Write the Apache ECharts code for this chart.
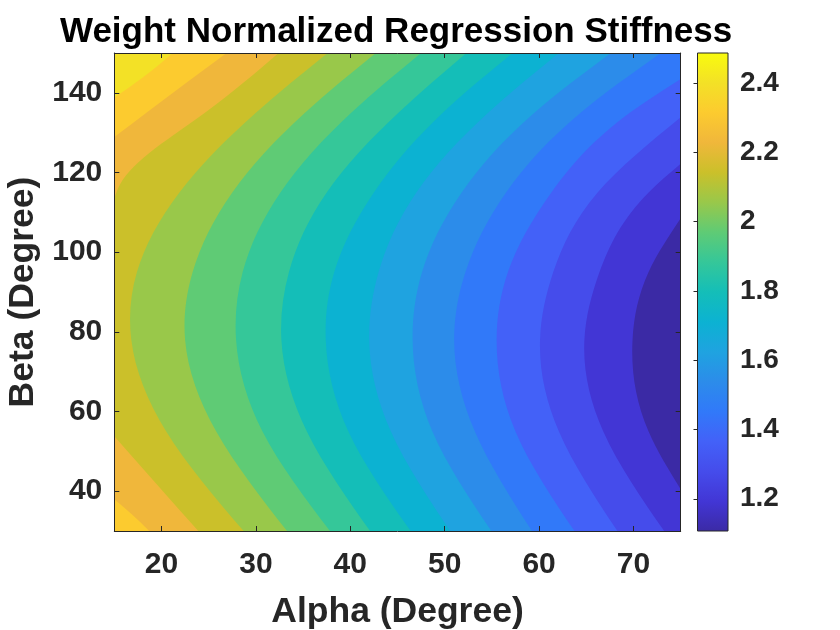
<!DOCTYPE html>
<html><head><meta charset="utf-8">
<script src="https://cdn.jsdelivr.net/npm/echarts@6/dist/echarts.min.js"></script>
<style>html,body{margin:0;padding:0;background:#fff}#c{width:840px;height:630px}</style>
</head><body><div id="c"></div>
<script>
// ---------- data ----------
const titleText = 'Weight Normalized Regression Stiffness';
const xName = 'Alpha (Degree)';
const yName = 'Beta (Degree)';
const alphaRange = [15, 75];
const betaRange = [30, 150];
const valueRange = [1.107, 2.486];
const xTicks = [20, 30, 40, 50, 60, 70];
const yTicks = [40, 60, 80, 100, 120, 140];
const cbTicks = [1.2, 1.4, 1.6, 1.8, 2, 2.2, 2.4];

// contour boundaries as [alpha, beta]; boundN separates band N-1 (right, lower) from band N (left, higher)
const bound1  = [[75,108.5],[71.6,95],[69.9,78],[71.6,55],[75,40.5]];
const bound2  = [[75,122.2],[71.6,115],[66.4,95],[64.8,78],[66.8,55],[73.25,30]];
const bound3  = [[75,133.9],[66.2,115],[61.5,95],[60.1,78],[62.1,55],[68.3,30]];
const bound4  = [[75,143.5],[69.6,135],[61.3,115],[56.7,95],[55.5,78],[57.5,55],[63.75,30]];
const bound5  = [[72.9,150],[64.4,135],[56.5,115],[52.2,95],[51.0,78],[53.2,55],[59.25,30]];
const bound6  = [[67.6,150],[59.5,135],[51.8,115],[47.6,95],[46.6,78],[48.7,55],[54.95,30]];
const bound7  = [[62.1,150],[54.6,135],[47.0,115],[43.0,95],[42.0,78],[44.3,55],[50.6,30]];
const bound8  = [[57.2,150],[49.8,135],[42.5,115],[38.3,95],[37.4,78],[39.8,55],[46.4,30]];
const bound9  = [[52.3,150],[45.1,135],[37.5,115],[33.5,95],[32.7,78],[35.4,55],[42.1,30]];
const bound10 = [[47.5,150],[40.1,135],[32.6,115],[28.6,95],[27.9,78],[30.7,55],[37.85,30]];
const bound11 = [[42.7,150],[35.2,135],[27.5,115],[23.3,95],[22.5,78],[25.8,55],[33.3,30]];
const bound12 = [[37.6,150],[30.0,135],[21.9,115],[17.4,95],[16.8,78],[20.5,55],[28.7,30]];
const bound13Top = [[32.4,150],[24.6,135],[15.6,117],[15,113.5]];
const bound13Bottom = [[15,53.8],[19.4,42],[23.9,30]];
const bound14Top = [[26.9,150],[18.4,135],[15,128.9]];
const bound14Bottom = [[15,38],[16.85,34.2],[18.7,30]];
const bound15 = [[21.2,150],[18.05,143.9],[15,138.8]];

// ---------- styles ----------
const bandColors = ['#3B2AA5','#4236D5','#454CEB','#4361F8','#3179F9','#2C8CEA','#1FA3E0','#0CB2D2',
                    '#14BEB8','#35C799','#5FCB75','#99C84A','#CBC02A','#F0B73B','#FCCB2F','#F3E126'];
const topColor = '#F9FB0E';
const FONT = 'Liberation Sans, Arial, Helvetica, sans-serif';
const AX = '#262626';

// polygons: high side of each boundary, closed through corners lying outside the plot
const pad = 5;
const corners = {
  TL: [alphaRange[0]-pad, betaRange[1]+pad], BL: [alphaRange[0]-pad, betaRange[0]-pad],
  TR: [alphaRange[1]+pad, betaRange[1]+pad], BR: [alphaRange[1]+pad, betaRange[0]-pad]
};
const polygons = [
  {band:1, pts:bound1, close:['BR','BL','TL','TR']},
  {band:2, pts:bound2, close:['BL','TL','TR']},
  {band:3, pts:bound3, close:['BL','TL','TR']},
  {band:4, pts:bound4, close:['BL','TL','TR']},
  {band:5, pts:bound5, close:['BL','TL']},
  {band:6, pts:bound6, close:['BL','TL']},
  {band:7, pts:bound7, close:['BL','TL']},
  {band:8, pts:bound8, close:['BL','TL']},
  {band:9, pts:bound9, close:['BL','TL']},
  {band:10, pts:bound10, close:['BL','TL']},
  {band:11, pts:bound11, close:['BL','TL']},
  {band:12, pts:bound12, close:['BL','TL']},
  {band:13, pts:bound13Top, close:['TL']},
  {band:13, pts:bound13Bottom, close:['BL']},
  {band:14, pts:bound14Top, close:['TL']},
  {band:14, pts:bound14Bottom, close:['BL']},
  {band:15, pts:bound15, close:['TL']}
];

// natural cubic spline slopes d(alpha)/d(beta) at the read points (used only to draw smooth edges)
function splineSlopes(xs, ys) {
  const n = xs.length;
  if (n === 2) { const s = (ys[1] - ys[0]) / (xs[1] - xs[0]); return [s, s]; }
  const h = [], mu = [0], z = [0], c = new Array(n).fill(0), b = new Array(n).fill(0);
  for (let i = 0; i < n - 1; i++) h[i] = xs[i + 1] - xs[i];
  for (let i = 1; i < n - 1; i++) {
    const a = 3 / h[i] * (ys[i + 1] - ys[i]) - 3 / h[i - 1] * (ys[i] - ys[i - 1]);
    const l = 2 * (xs[i + 1] - xs[i - 1]) - h[i - 1] * mu[i - 1];
    mu[i] = h[i] / l;
    z[i] = (a - h[i - 1] * z[i - 1]) / l;
  }
  c[n - 1] = 0;
  for (let j = n - 2; j >= 0; j--) {
    c[j] = (j === 0 ? 0 : z[j] - mu[j] * c[j + 1]);
    b[j] = (ys[j + 1] - ys[j]) / h[j] - h[j] * (c[j + 1] + 2 * c[j]) / 3;
  }
  const k = n - 2;
  b[n - 1] = (ys[n - 1] - ys[k]) / h[k] + h[k] * (2 * c[n - 1] + c[k]) / 3;
  return b;
}

function contourItem(params, api) {
  const poly = polygons[params.dataIndex];
  const pts = poly.pts, n = pts.length;
  const betas = pts.map(p => p[1]), alphas = pts.map(p => p[0]);
  const s = splineSlopes(betas, alphas);
  const P0 = api.coord(pts[0]);
  let d = 'M' + P0[0] + ' ' + P0[1];
  for (let i = 0; i < n - 1; i++) {
    const hb = betas[i + 1] - betas[i];
    const c1 = api.coord([alphas[i] + s[i] * hb / 3, betas[i] + hb / 3]);
    const c2 = api.coord([alphas[i + 1] - s[i + 1] * hb / 3, betas[i + 1] - hb / 3]);
    const p2 = api.coord(pts[i + 1]);
    d += ' C' + c1[0] + ' ' + c1[1] + ' ' + c2[0] + ' ' + c2[1] + ' ' + p2[0] + ' ' + p2[1];
  }
  poly.close.forEach(k => { const c = api.coord(corners[k]); d += ' L' + c[0] + ' ' + c[1]; });
  d += ' Z';
  const cs = params.coordSys;
  return {
    type: 'path',
    shape: { pathData: d },
    style: { fill: bandColors[poly.band] },
    clipPath: { type: 'rect', shape: { x: cs.x, y: cs.y, width: cs.width, height: cs.height } }
  };
}

function colorbarItem(params, api) {
  const a = api.coord([0, valueRange[1]]);
  const b = api.coord([1, valueRange[0]]);
  const stops = bandColors.map((c, i) => ({ offset: i / bandColors.length, color: c }));
  stops.push({ offset: 1, color: topColor });
  return {
    type: 'rect',
    shape: { x: a[0], y: a[1], width: b[0] - a[0], height: b[1] - a[1] },
    style: { fill: new echarts.graphic.LinearGradient(0, 1, 0, 0, stops), stroke: AX, lineWidth: 1 }
  };
}

const tickLabel = { fontSize: 30, fontWeight: 'bold', color: AX, fontFamily: FONT };
const nameStyle = { fontSize: 35.5, fontWeight: 'bold', color: AX, fontFamily: FONT };
const lineStyle = { color: AX, width: 1 };

const chart = echarts.init(document.getElementById('c'), null, { renderer: 'canvas' });
chart.setOption({
  animation: false,
  backgroundColor: '#fff',
  title: {
    text: titleText, left: 60, top: 15, padding: 0,
    textStyle: { fontSize: 35, fontWeight: 'bold', color: '#000', fontFamily: FONT }
  },
  grid: [
    { left: 114.3, top: 53, width: 566.4, height: 478, show: true, backgroundColor: bandColors[0],
      borderWidth: 0, containLabel: false, outerBoundsMode: 'none' },
    { left: 697.5, top: 53, width: 30.5, height: 478, show: false, containLabel: false, outerBoundsMode: 'none' }
  ],
  xAxis: [
    { type: 'value', gridIndex: 0, position: 'bottom', min: alphaRange[0], max: alphaRange[1], z: 10,
      name: xName, nameLocation: 'middle', nameGap: 63, nameTextStyle: nameStyle,
      axisLine: { show: true, lineStyle }, splitLine: { show: false },
      axisTick: { show: true, inside: true, length: 5, customValues: xTicks, lineStyle },
      axisLabel: Object.assign({ customValues: xTicks, margin: 19 }, tickLabel) },
    { type: 'value', gridIndex: 0, position: 'top', min: alphaRange[0], max: alphaRange[1], z: 10,
      axisLine: { show: true, lineStyle }, splitLine: { show: false },
      axisTick: { show: true, inside: true, length: 5, customValues: xTicks, lineStyle },
      axisLabel: { show: false } },
    { type: 'value', gridIndex: 1, min: 0, max: 1, show: false }
  ],
  yAxis: [
    { type: 'value', gridIndex: 0, position: 'left', min: betaRange[0], max: betaRange[1], z: 10,
      name: yName, nameLocation: 'middle', nameGap: 67, nameRotate: 90, nameTextStyle: nameStyle,
      axisLine: { show: true, lineStyle }, splitLine: { show: false },
      axisTick: { show: true, inside: true, length: 5, customValues: yTicks, lineStyle },
      axisLabel: Object.assign({ customValues: yTicks, margin: 12 }, tickLabel) },
    { type: 'value', gridIndex: 0, position: 'right', min: betaRange[0], max: betaRange[1], z: 10,
      axisLine: { show: true, lineStyle }, splitLine: { show: false },
      axisTick: { show: true, inside: true, length: 5, customValues: yTicks, lineStyle },
      axisLabel: { show: false } },
    { type: 'value', gridIndex: 1, position: 'right', min: valueRange[0], max: valueRange[1], z: 10,
      axisLine: { show: false }, splitLine: { show: false },
      axisTick: { show: true, inside: true, length: 4, customValues: cbTicks, lineStyle },
      axisLabel: Object.assign({ customValues: cbTicks, margin: 12 }, tickLabel, { fontSize: 28 }) }
  ],
  series: [
    { type: 'custom', name: 'contours', xAxisIndex: 0, yAxisIndex: 0, z: 1, silent: true, clip: true,
      renderItem: contourItem, encode: { x: 0, y: 1 },
      data: polygons.map(p => p.pts[0]) },
    { type: 'custom', name: 'colorbar', xAxisIndex: 2, yAxisIndex: 2, z: 1, silent: true,
      renderItem: colorbarItem, encode: { x: 0, y: 1 },
      data: [[0, valueRange[0]]] }
  ]
});
</script>
</body></html>
